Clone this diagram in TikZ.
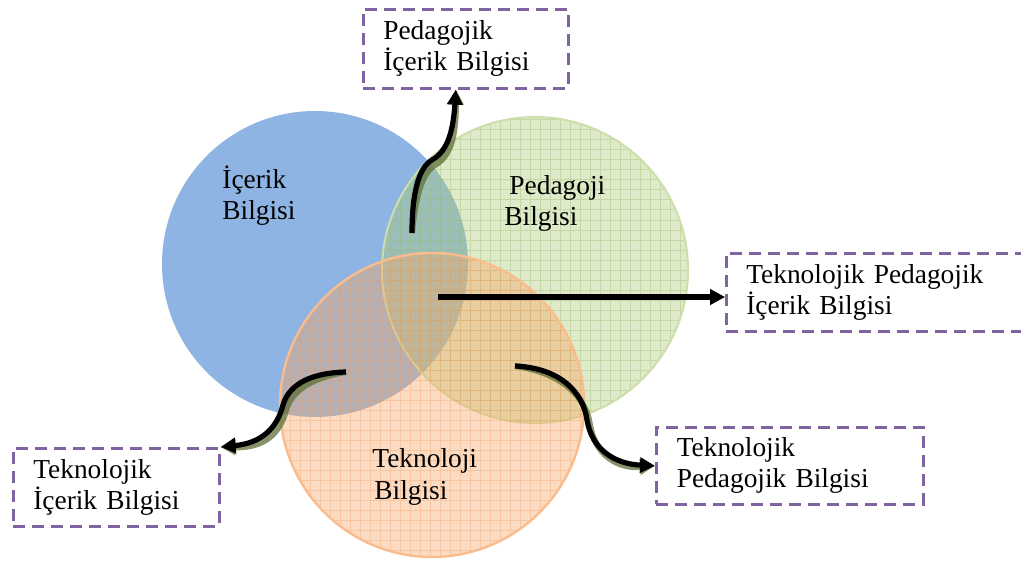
\documentclass[tikz,border=0pt]{standalone}
\usepackage{fontspec}
\setmainfont{Liberation Serif}
\newfontfamily\tnrfont{Liberation Serif}
\newcommand\boxfont{\tnrfont\fontsize{13.7}{15.5}\selectfont}
\usetikzlibrary{arrows.meta}
\definecolor{bluefill}{RGB}{141,180,226}
\definecolor{greenfill}{RGB}{178,205,128}
\definecolor{greenline}{RGB}{205,222,170}
\definecolor{greengrid}{RGB}{150,185,100}
\definecolor{orangefill}{RGB}{247,168,105}
\definecolor{orangeline}{RGB}{250,188,140}
\definecolor{orangegrid}{RGB}{240,150,85}
\definecolor{boxpurple}{RGB}{128,100,162}
\definecolor{shadowcol}{RGB}{95,112,55}
\begin{document}
\begin{tikzpicture}[x=0.5pt,y=-0.5pt,
  txt/.style={font=\tnrfont\fontsize{13.7}{15.7}\selectfont, align=left, inner sep=0pt, anchor=base west},
  infobox/.style={draw=boxpurple, line width=1.3pt, dash pattern=on 6pt off 3.5pt,
     anchor=north west, inner xsep=10pt, inner ysep=0pt, font=\boxfont},
  conn/.style={line width=2.6pt, draw=black, -{Triangle[length=7.5pt,width=7.5pt]}},
  connshadow/.style={line width=3pt, draw=shadowcol, opacity=0.75, -{Triangle[length=7.5pt,width=7.5pt]}},
]
\useasboundingbox (0,0) rectangle (1021,561);
\fill[white] (0,0) rectangle (1021,561);

% circles
\fill[bluefill] (315,264) circle[radius=153];

\fill[greenfill, fill opacity=0.42] (535,270) circle[radius=153];
\begin{scope}
  \clip (535,270) circle[radius=153];
  \draw[greengrid, opacity=0.35, line width=0.5pt, step=5pt] (370,110) grid (700,430);
\end{scope}
\draw[greenline, line width=1pt] (535,270) circle[radius=153];

\fill[orangefill, fill opacity=0.4] (432,405) circle[radius=152];
\begin{scope}
  \clip (432,405) circle[radius=152];
  \draw[orangegrid, opacity=0.3, line width=0.5pt, step=5pt] (270,250) grid (590,560);
\end{scope}
\draw[orangeline, line width=1.2pt] (432,405) circle[radius=152];

% circle labels (base anchor = last line baseline)
\node[txt] (lic) at (222,220) {İçerik\\Bilgisi};
\node[txt] (lpb) at (504,226) {\hspace*{2.5pt}Pedagoji\\Bilgisi};
\node[txt] (ltb) at (372,499) {Teknoloji\\\hspace*{1pt}Bilgisi};

% boxes
\node[infobox, minimum width=102.5pt, minimum height=39.5pt, text width=82.5pt] (b1) at (362,8)
  {\boxfont\raggedright Pedagojik\\İçerik Bilgisi};
\node[infobox, minimum width=165pt, minimum height=39pt, text width=145pt] (b2) at (725,252)
  {\boxfont\raggedright Teknolojik Pedagojik\\İçerik Bilgisi};
\node[infobox, minimum width=103pt, minimum height=39pt, text width=83pt] (b3) at (12,447)
  {\boxfont\raggedright Teknolojik\\İçerik Bilgisi};
\node[infobox, minimum width=133.5pt, minimum height=38.5pt, text width=113pt] (b4) at (655,426)
  {\boxfont\raggedright Teknolojik\\Pedagojik Bilgisi};

% connector start points
\coordinate (s1) at (412,233);
\coordinate (s2) at (438,297);
\coordinate (s3) at (346,372);
\coordinate (s4) at (515,366);

% shadows
\begin{scope}[shift={(3,5)}]
  \draw[connshadow] (s1) .. controls (412,195) and (418,168) .. (432,160) .. controls (446,152) and (453,135) .. ([xshift=-5pt]b1.south);
  \draw[connshadow] (s2) -- (s2 -| b2.west);
  \draw[connshadow] (s3) .. controls (305,373) and (288,388) .. (283,405) .. controls (277,428) and (262,443) .. (b3.north east);
  \draw[connshadow] (s4) .. controls (560,368) and (583,392) .. (587,420) .. controls (592,450) and (615,464) .. (b4.west);
\end{scope}

% connectors
\draw[conn] (s1) .. controls (412,195) and (418,168) .. (432,160) .. controls (446,152) and (453,135) .. ([xshift=-5pt]b1.south);
\draw[conn] (s2) -- (s2 -| b2.west);
\draw[conn] (s3) .. controls (305,373) and (288,388) .. (283,405) .. controls (277,428) and (262,443) .. (b3.north east);
\draw[conn] (s4) .. controls (560,368) and (583,392) .. (587,420) .. controls (592,450) and (615,464) .. (b4.west);
\end{tikzpicture}
\end{document}
